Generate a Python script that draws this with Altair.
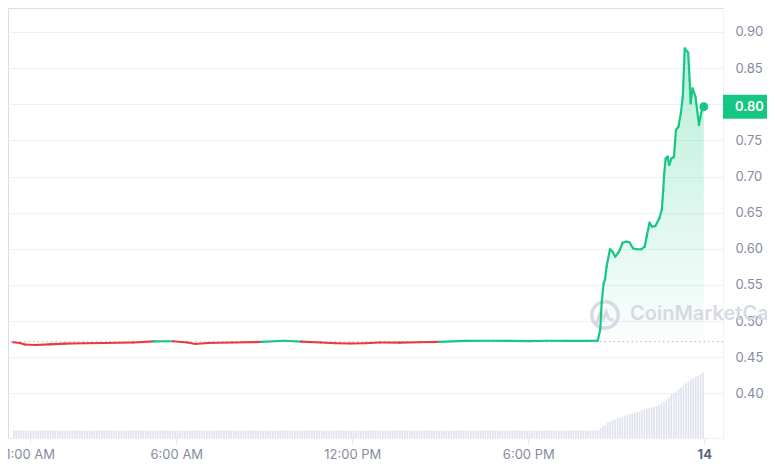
import altair as alt
import pandas as pd

# ---------------- data ----------------
# price: minutes after midnight of the 13th, price in USD
price_minutes = [26, 40, 50, 71, 101, 131, 171, 212, 272, 313,
                 353, 383, 399, 424, 474, 534, 581, 615, 655, 686,
                 716, 746, 776, 817, 857, 897, 952, 998, 1039, 1079,
                 1119, 1160, 1200, 1216,
                 1222, 1227, 1230, 1234, 1237, 1240, 1247, 1252, 1258, 1264,
                 1267, 1273, 1281, 1287, 1294, 1301, 1311, 1318, 1322, 1328,
                 1333, 1340, 1348, 1353, 1356, 1358, 1361, 1365, 1368, 1373,
                 1378, 1382, 1387, 1392, 1396, 1400, 1407, 1410, 1412, 1416,
                 1422, 1429, 1432, 1435, 1439]
price_values = [0.4706, 0.4696, 0.4675, 0.4668, 0.4678, 0.4686, 0.4692, 0.4696, 0.4703, 0.4717,
                0.4720, 0.4703, 0.4682, 0.4696, 0.4703, 0.4710, 0.4727, 0.4714, 0.4703, 0.4692,
                0.4689, 0.4692, 0.4703, 0.4700, 0.4706, 0.4710, 0.4724, 0.4727, 0.4724, 0.4721,
                0.4727, 0.4724, 0.4724, 0.4727,
                0.4728, 0.4876, 0.5245, 0.5522, 0.5578, 0.5752, 0.5993, 0.5960, 0.5890, 0.5946,
                0.5983, 0.6084, 0.6098, 0.6090, 0.6007, 0.5993, 0.5993, 0.6029, 0.6167, 0.6361,
                0.6306, 0.6315, 0.6422, 0.6537, 0.6813, 0.7045, 0.7252, 0.7274, 0.7159, 0.7252,
                0.7274, 0.7644, 0.7689, 0.7875, 0.8105, 0.8774, 0.8714, 0.8336, 0.8013, 0.8221,
                0.8105, 0.7713, 0.7820, 0.7921, 0.7966]
open_price = 0.4714

# volume per 5-minute bar (arbitrary units), first bar at 00:27
volume_values = [
    15, 15, 15, 15, 15, 15, 15, 15, 15, 15, 15, 15, 15, 15, 15, 15, 15, 15, 15, 15, 15, 15, 15, 15,
    15, 15, 15, 15, 15, 15, 15, 15, 15, 15, 15, 15, 15, 15, 15, 15, 15, 15, 15, 15, 15, 15, 15, 15,
    15, 15, 15, 15, 15, 15, 15, 15, 15, 15, 15, 15, 15, 15, 15, 15, 15, 15, 15, 15, 15, 15, 15, 15,
    15, 15, 15, 15, 15, 15, 15, 15, 15, 15, 15, 15, 15, 15, 15, 15, 15, 15, 15, 15, 15, 15, 15, 15,
    15, 15, 15, 15, 15, 15, 15, 15, 15, 15, 15, 15, 15, 15, 15, 15, 15, 15, 15, 15, 15, 15, 15, 15,
    15, 15, 15, 15, 15, 15, 15, 15, 15, 15, 15, 15, 15, 15, 15, 15, 15, 15, 15, 15, 15, 15, 15, 15,
    15, 15, 15, 15, 15, 15, 15, 15, 15, 15, 15, 15, 15, 15, 15, 15, 15, 15, 15, 15, 15, 15, 15, 15,
    15, 15, 15, 15, 15, 15, 15, 15, 15, 15, 15, 15, 15, 15, 15, 15, 15, 15, 15, 15, 15, 15, 15, 15,
    15, 15, 15, 15, 15, 15, 15, 15, 15, 15, 15, 15, 15, 15, 15, 15, 15, 15, 15, 15, 15, 15, 15, 15,
    15, 15, 15, 15, 15, 15, 15, 15, 15, 15, 15, 15, 15, 15, 15, 15, 15, 15, 15, 15, 15, 15, 15, 15,
    19, 23, 26, 31, 33, 36, 37, 39, 41, 43, 45, 47, 48, 49, 51, 52, 53, 55, 57, 59, 61, 61,
    63, 64, 66, 69, 73, 77, 81, 87, 89, 93, 97, 101, 106, 109, 113, 117, 120, 123, 124, 128, 131]
volume_start_minute = 27.5
volume_step_minutes = 5

tick_values = [60, 360, 720, 1080, 1440]
tick_labels = ["1:00 AM", "6:00 AM", "12:00 PM", "6:00 PM", "14"]
price_ticks = [0.40, 0.45, 0.50, 0.55, 0.60, 0.65, 0.70, 0.75, 0.80, 0.85, 0.90]

# ---------------- styling ----------------
GREEN = "#16c784"
RED = "#ea3943"
LABEL = "#858ca0"
GRID = "#eff2f5"
FONT = "Inter"
W, H = 715, 430

price_df = pd.DataFrame({"t": price_minutes, "p": price_values})
seg_df = pd.DataFrame({
    "t": price_minutes[:-1], "t2": price_minutes[1:],
    "p": price_values[:-1], "p2": price_values[1:],
})
seg_df["dir"] = ["up" if (a + b) / 2 >= open_price else "down"
                 for a, b in zip(seg_df["p"], seg_df["p2"])]
spike_df = price_df[price_df["t"] >= 1216]
last_df = price_df.tail(1)
vol_df = pd.DataFrame({
    "t": [volume_start_minute + volume_step_minutes * i for i in range(len(volume_values))],
    "v": volume_values,
})
one = pd.DataFrame({"a": [0]})
last_label = f"{price_values[-1]:.2f}"

label_expr = " : ".join(
    f"datum.value == {v} ? '{l}'" for v, l in zip(tick_values, tick_labels)
) + " : ''"

xscale = alt.Scale(domain=[26, 1468], nice=False, zero=False)
yscale = alt.Scale(domain=[0.3381, 0.9332], nice=False, zero=False)

xax = alt.Axis(values=tick_values, labelExpr=label_expr, title=None, grid=False,
               domain=True, domainColor=GRID, ticks=True, tickSize=5, tickColor="#e3e6ec",
               labelColor={"condition": {"test": "datum.value == 1440", "value": "#58667e"},
                           "value": LABEL},
               labelFontWeight={"condition": {"test": "datum.value == 1440", "value": "bold"},
                                "value": "normal"},
               labelFont=FONT, labelFontSize=13, labelPadding=5, labelFlush=False)
yax = alt.Axis(values=price_ticks, title=None, grid=True,
               labelExpr=f"format(datum.value, '.2f') == '{last_label}' ? '' : format(datum.value, '.2f')",
               orient="right",
               gridColor=GRID, domain=True, domainColor=GRID, ticks=False, labelPadding=12,
               labelColor=LABEL, labelFont=FONT, labelFontSize=13)

X = alt.X("t:Q", scale=xscale, axis=xax)
Y = alt.Y("p:Q", scale=yscale, axis=yax)

vol = alt.Chart(vol_df).mark_bar(color="#dfe2ed", size=1.6).encode(
    x=X, y=alt.Y("v:Q", scale=alt.Scale(domain=[0, 860], nice=False), axis=None)
)

area = alt.Chart(spike_df).mark_area(
    color=alt.Gradient(gradient="linear", x1=0, x2=0, y1=0, y2=1, stops=[
        alt.GradientStop(color="rgba(22,199,132,0.30)", offset=0),
        alt.GradientStop(color="rgba(22,199,132,0.02)", offset=1)])
).encode(x=X, y=Y, y2=alt.Y2(datum=open_price))

base = alt.Chart(one).mark_rule(color="#b3b8c6", strokeDash=[1.5, 3], strokeWidth=1).encode(
    y=alt.Y(datum=open_price, scale=yscale, axis=yax))

wm_logo = alt.Chart(one).mark_point(shape="circle", size=700, filled=False, strokeWidth=3.5,
                                    color="#d3d7e2", opacity=0.9).encode(
    x=alt.value(597), y=alt.value(307))
wm_wave = alt.Chart(one).mark_point(
    shape="M-1,0.9 L-0.55,-0.45 L-0.2,0.35 L0.15,-0.45 L0.45,0.35 L1,0.45",
    size=300, filled=False, strokeWidth=3, color="#d3d7e2", opacity=0.9).encode(
    x=alt.value(597), y=alt.value(308))
wm_text = alt.Chart(one).mark_text(text="CoinMarketCap", align="left", baseline="middle",
                                   font=FONT, fontSize=20, fontWeight=600, color="#d3d7e2",
                                   opacity=0.9).encode(
    x=alt.value(622), y=alt.value(306))

lines = alt.Chart(seg_df).mark_rule(strokeWidth=2.2, strokeCap="round").encode(
    x=X, x2="t2:Q", y=Y, y2="p2:Q",
    color=alt.Color("dir:N", scale=alt.Scale(domain=["up", "down"], range=[GREEN, RED]),
                    legend=None))

dot = alt.Chart(last_df).mark_circle(color=GREEN, size=80, opacity=1).encode(x=X, y=Y)

box = alt.Chart(last_df).mark_rule(color=GREEN, strokeWidth=24, strokeCap="butt").encode(
    x=alt.value(W), x2=alt.value(W + 44), y=Y)
box_text = alt.Chart(last_df).mark_text(align="left", baseline="middle", color="white",
                                        font=FONT, fontSize=13, fontWeight=600).encode(
    x=alt.value(W + 12), y=Y, text=alt.Text("p:Q", format=".2f"))

price = alt.layer(base, area, wm_logo, wm_wave, wm_text, lines, dot, box, box_text)

chart = alt.layer(vol, price).resolve_scale(y="independent").properties(
    width=W, height=H,
    autosize=alt.AutoSizeParams(type="none"),
    padding={"left": 0, "top": 0, "right": 44, "bottom": 23},
).configure_view(stroke=None).configure(background="white")

chart.save("out.html", embed_options={"renderer": "svg", "actions": False})
